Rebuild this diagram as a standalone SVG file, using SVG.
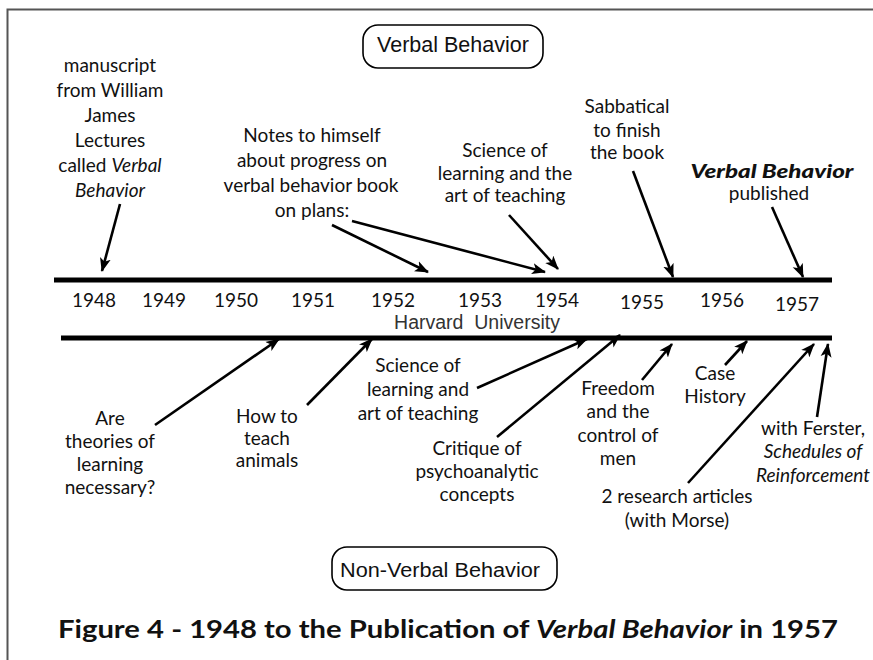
<svg xmlns="http://www.w3.org/2000/svg" width="873" height="660" viewBox="0 0 873 660">
<style>
.t{font-family:Lato,"Open Sans","Noto Sans",sans-serif;font-size:19px;fill:#111;text-anchor:middle}
.i{font-style:italic}
.y{font-family:Lato,"Open Sans",sans-serif;font-size:19px;fill:#111;text-anchor:middle}
.a{font-family:"Liberation Sans",Arial,sans-serif;fill:#111;text-anchor:middle}
.bar{stroke:#000;stroke-width:5}
.ar{stroke:#000;stroke-width:2.6;fill:none;marker-end:url(#ah)}
.box{fill:#fff;stroke:#000;stroke-width:1.6}
</style>
<defs>
<marker id="ah" viewBox="0 0 14 12" refX="13" refY="6" markerWidth="14" markerHeight="12" markerUnits="userSpaceOnUse" orient="auto">
<path d="M0,0.5 L14,6 L0,11.5 L3.5,6 z" fill="#000"/>
</marker>
</defs>
<rect width="873" height="660" fill="#fff"/>
<g id="frame" fill="none" stroke="#555" stroke-width="2">
<path d="M7.5,660 V9.5 H873"/>
</g>
<g id="timeline">
<line class="bar" x1="54" y1="280" x2="832" y2="280"/>
<line class="bar" x1="61" y1="338" x2="832" y2="338"/>
</g>
<g id="years">
<text class="y" x="94" y="307">1948</text>
<text class="y" x="164" y="307">1949</text>
<text class="y" x="236" y="307">1950</text>
<text class="y" x="313" y="307">1951</text>
<text class="y" x="393" y="307">1952</text>
<text class="y" x="480" y="307">1953</text>
<text class="y" x="557" y="307">1954</text>
<text class="y" x="642" y="309">1955</text>
<text class="y" x="722" y="307">1956</text>
<text class="y" x="797" y="311">1957</text>
<text class="a" x="477" y="329" font-size="19.5" style="fill:#333" xml:space="preserve">Harvard  University</text>
</g>
<g id="verbal-box">
<rect class="box" x="363" y="25" width="180" height="43" rx="15"/>
<text class="a" x="453" y="52" font-size="21.5">Verbal Behavior</text>
</g>
<g id="nonverbal-box">
<rect class="box" x="332" y="547" width="225" height="43" rx="15"/>
<text class="a" x="440" y="577" font-size="20" textLength="200" lengthAdjust="spacingAndGlyphs">Non-Verbal Behavior</text>
</g>
<g id="n-manuscript">
<text class="t" x="110" y="72">manuscript</text>
<text class="t" x="110" y="97">from William</text>
<text class="t" x="110" y="122">James</text>
<text class="t" x="110" y="147">Lectures</text>
<text class="t" x="110" y="172">called <tspan class="i">Verbal</tspan></text>
<text class="t i" x="110" y="197">Behavior</text>
</g>
<g id="n-notes">
<text class="t" x="312" y="142">Notes to himself</text>
<text class="t" x="312" y="167">about progress on</text>
<text class="t" x="311" y="192">verbal behavior book</text>
<text class="t" x="312" y="217">on plans:</text>
</g>
<g id="n-science-top">
<text class="t" x="505" y="157">Science of</text>
<text class="t" x="505" y="180">learning and the</text>
<text class="t" x="505" y="202">art of teaching</text>
</g>
<g id="n-sabbatical">
<text class="t" x="627" y="113">Sabbatical</text>
<text class="t" x="627" y="137">to finish</text>
<text class="t" x="627" y="159">the book</text>
</g>
<g id="n-published">
<text class="t i" x="772" y="178" font-weight="900" font-size="20" textLength="163" lengthAdjust="spacingAndGlyphs">Verbal Behavior</text>
<text class="t" x="769" y="200">published</text>
</g>
<g id="n-theories">
<text class="t" x="110" y="425">Are</text>
<text class="t" x="110" y="448">theories of</text>
<text class="t" x="110" y="471">learning</text>
<text class="t" x="110" y="494">necessary?</text>
</g>
<g id="n-animals">
<text class="t" x="267" y="423">How to</text>
<text class="t" x="267" y="445">teach</text>
<text class="t" x="267" y="467">animals</text>
</g>
<g id="n-science-bottom">
<text class="t" x="418" y="372">Science of</text>
<text class="t" x="418" y="396">learning and</text>
<text class="t" x="418" y="420">art of teaching</text>
</g>
<g id="n-critique">
<text class="t" x="477" y="455">Critique of</text>
<text class="t" x="477" y="478">psychoanalytic</text>
<text class="t" x="477" y="501">concepts</text>
</g>
<g id="n-freedom">
<text class="t" x="618" y="395">Freedom</text>
<text class="t" x="618" y="418">and the</text>
<text class="t" x="618" y="442">control of</text>
<text class="t" x="618" y="465">men</text>
</g>
<g id="n-case">
<text class="t" x="715" y="380">Case</text>
<text class="t" x="715" y="403">History</text>
</g>
<g id="n-ferster">
<text class="t" x="813" y="435">with Ferster,</text>
<text class="t i" x="813" y="458">Schedules of</text>
<text class="t i" x="813" y="482">Reinforcement</text>
</g>
<g id="n-research">
<text class="t" x="677" y="503">2 research articles</text>
<text class="t" x="677" y="527">(with Morse)</text>
</g>
<g id="connectors">
<line class="ar" x1="120" y1="204" x2="102" y2="271"/>
<line class="ar" x1="332" y1="225" x2="428" y2="272"/>
<line class="ar" x1="352" y1="221" x2="545" y2="272"/>
<line class="ar" x1="509" y1="215" x2="558" y2="269"/>
<line class="ar" x1="633" y1="171" x2="673" y2="277"/>
<line class="ar" x1="772" y1="207" x2="803" y2="277"/>
<line class="ar" x1="155" y1="425" x2="279" y2="339"/>
<line class="ar" x1="307" y1="405" x2="372" y2="339"/>
<line class="ar" x1="477" y1="388" x2="587" y2="339"/>
<line class="ar" x1="497" y1="437" x2="620" y2="335"/>
<line class="ar" x1="642" y1="380" x2="672" y2="344"/>
<line class="ar" x1="725" y1="365" x2="747" y2="341"/>
<line class="ar" x1="688" y1="483" x2="814" y2="344"/>
<line class="ar" x1="817" y1="417" x2="828" y2="344"/>
</g>
<g id="caption">
<text x="448" y="638" font-family="Lato,'Open Sans',sans-serif" font-weight="bold" font-size="24" fill="#111" text-anchor="middle" textLength="780" lengthAdjust="spacingAndGlyphs">Figure 4 - 1948 to the Publication of <tspan font-style="italic">Verbal Behavior</tspan> in 1957</text>
</g>
</svg>
